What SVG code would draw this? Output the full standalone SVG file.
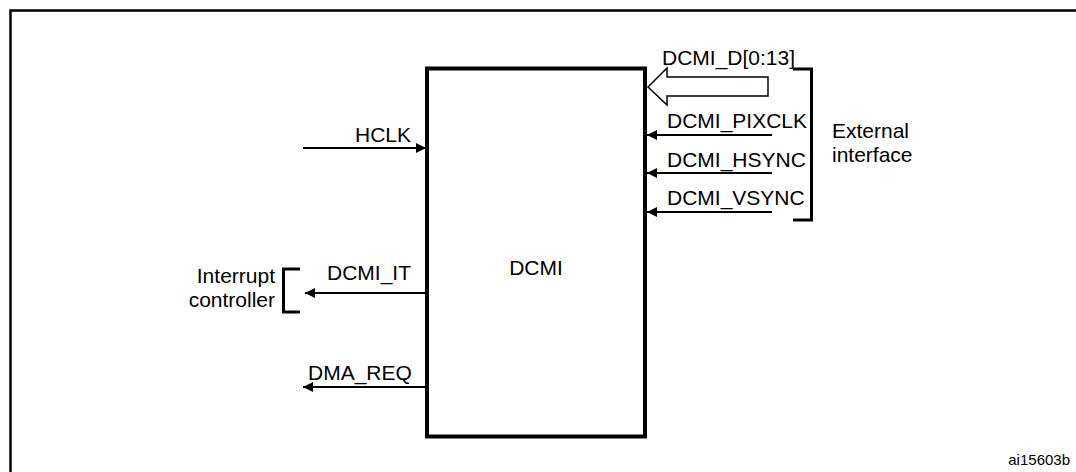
<svg xmlns="http://www.w3.org/2000/svg" width="1076" height="472" viewBox="0 0 1076 472">
<style>
text{font-family:"Liberation Sans",Arial,sans-serif;font-size:21px;fill:#000}
.w{stroke:#000;stroke-width:2;fill:none}
.br{stroke:#000;stroke-width:3;fill:none}
</style>
<defs>
<marker id="ah" markerWidth="10" markerHeight="10" refX="10" refY="5" orient="auto" markerUnits="userSpaceOnUse">
<path d="M0,0 L10,5 L0,10 Z" fill="#000"/>
</marker>
</defs>
<rect width="1076" height="472" fill="#fff"/>
<path d="M10.5,472 V10.5 H1076" stroke="#000" stroke-width="2.5" fill="none"/>
<g id="dcmi">
<rect x="427" y="68.5" width="218" height="368" fill="none" stroke="#000" stroke-width="4"/>
<text x="536" y="275" text-anchor="middle">DCMI</text>
</g>
<g id="external">
<path class="br" d="M793,69 H811.5 V220 H793"/>
<text x="832" y="138">External</text>
<text x="832" y="162">interface</text>
</g>
<g id="interrupt">
<path class="br" d="M300,269 H283.5 V312 H300"/>
<text x="275" y="283" text-anchor="end">Interrupt</text>
<text x="275" y="307" text-anchor="end">controller</text>
</g>
<g id="connectors">
<path d="M648,87 L667,68 V77 H768 V96 H667 V105 Z" fill="#fff" stroke="#000" stroke-width="1.5" stroke-linejoin="miter"/>
<text x="662" y="65">DCMI_D[0:13]</text>
<line class="w" x1="772" y1="135" x2="647" y2="135" marker-end="url(#ah)"/>
<text x="667" y="128">DCMI_PIXCLK</text>
<line class="w" x1="772" y1="173" x2="647" y2="173" marker-end="url(#ah)"/>
<text x="667" y="167">DCMI_HSYNC</text>
<line class="w" x1="772" y1="212" x2="647" y2="212" marker-end="url(#ah)"/>
<text x="667" y="205">DCMI_VSYNC</text>
<line class="w" x1="303" y1="148" x2="426" y2="148" marker-end="url(#ah)"/>
<text x="355" y="142">HCLK</text>
<line class="w" x1="427" y1="293" x2="305" y2="293" marker-end="url(#ah)"/>
<text x="327" y="280">DCMI_IT</text>
<line class="w" x1="427" y1="387" x2="303" y2="387" marker-end="url(#ah)"/>
<text x="308" y="380">DMA_REQ</text>
</g>
<text x="1070" y="465" text-anchor="end" style="font-size:15px">ai15603b</text>
</svg>
